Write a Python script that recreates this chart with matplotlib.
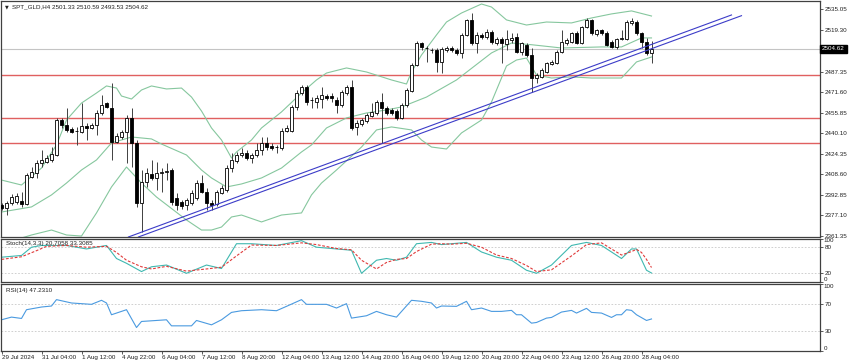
import matplotlib
matplotlib.use('Agg')
import matplotlib.pyplot as plt
from matplotlib import font_manager
import numpy as np

# ---- SPT_GLD H4 candles (bar 0 = 29 Jul 2024) ----
opens = [2385.1, 2382.8, 2386.6, 2387.4, 2388.2, 2385.9, 2406.5, 2409.6, 2417.3, 2418.0,
         2419.6, 2423.4, 2450.2, 2446.4, 2443.3, 2441.8, 2441.0, 2445.6, 2444.1, 2446.4,
         2455.6, 2463.2, 2459.4, 2433.4, 2437.2, 2441.0, 2451.8, 2432.6, 2386.6, 2402.7,
         2408.8, 2405.8, 2409.6, 2410.4, 2411.9, 2390.5, 2387.4, 2385.1, 2386.6, 2390.5,
         2401.9, 2395.1, 2386.6, 2385.9, 2394.3, 2396.6, 2413.4, 2418.8, 2423.4, 2424.9,
         2421.1, 2423.4, 2427.2, 2432.6, 2430.3, 2429.5, 2428.8, 2441.8, 2441.8, 2460.2,
         2470.9, 2475.5, 2465.5, 2464.0, 2466.3, 2468.6, 2468.6, 2465.5, 2461.7, 2470.9,
         2475.5, 2444.9, 2447.2, 2449.5, 2453.3, 2455.6, 2464.0, 2459.4, 2457.9, 2457.1,
         2451.8, 2461.7, 2472.4, 2492.4, 2509.2, 2505.4, 2503.9, 2503.9, 2494.7, 2503.9,
         2505.4, 2503.9, 2501.6, 2515.4, 2526.9, 2509.2, 2515.4, 2513.8, 2517.7, 2509.2,
         2512.3, 2508.5, 2511.5, 2513.8, 2502.3, 2507.7, 2500.0, 2482.4, 2483.2, 2487.0,
         2493.1, 2493.9, 2502.3, 2509.2, 2510.0, 2516.9, 2509.2, 2521.5, 2526.9, 2516.1,
         2519.2, 2516.9, 2510.0, 2506.2, 2512.3, 2512.3, 2524.6, 2525.3, 2516.9, 2510.0,
         2501.33]
highs = [2386.6, 2388.2, 2393.5, 2394.3, 2395.1, 2409.6, 2414.2, 2419.6, 2427.2, 2423.4,
         2429.5, 2451.8, 2451.8, 2459.4, 2444.9, 2444.9, 2463.2, 2447.9, 2447.9, 2457.9,
         2469.4, 2464.0, 2478.6, 2440.3, 2442.6, 2454.1, 2459.4, 2434.9, 2411.9, 2413.4,
         2419.6, 2418.0, 2413.4, 2417.3, 2413.4, 2394.3, 2388.9, 2390.5, 2396.6, 2404.2,
         2408.1, 2398.1, 2388.9, 2396.6, 2400.4, 2415.7, 2424.9, 2425.7, 2428.8, 2427.2,
         2424.9, 2432.6, 2437.2, 2437.2, 2432.6, 2431.1, 2444.1, 2446.4, 2461.7, 2473.2,
         2477.0, 2477.0, 2467.8, 2469.4, 2475.5, 2470.1, 2470.9, 2467.8, 2473.2, 2477.0,
         2480.9, 2450.2, 2451.8, 2455.6, 2463.2, 2465.5, 2470.9, 2461.0, 2459.4, 2458.7,
         2463.2, 2474.7, 2493.9, 2510.8, 2510.0, 2506.9, 2505.4, 2505.4, 2506.2, 2506.9,
         2506.9, 2505.4, 2516.9, 2527.6, 2532.2, 2517.7, 2516.9, 2520.0, 2519.2, 2513.8,
         2513.8, 2519.2, 2516.9, 2516.9, 2510.0, 2509.2, 2505.4, 2486.2, 2490.1, 2494.7,
         2496.2, 2503.9, 2519.2, 2513.1, 2517.7, 2518.4, 2522.3, 2528.4, 2527.6, 2520.0,
         2520.0, 2518.4, 2511.5, 2513.1, 2519.2, 2526.9, 2528.4, 2526.9, 2517.7, 2513.1,
         2510.59]
lows = [2381.3, 2377.4, 2385.1, 2385.9, 2383.6, 2385.1, 2405.8, 2405.8, 2414.2, 2417.3,
        2418.0, 2422.6, 2444.1, 2441.0, 2440.3, 2431.1, 2440.3, 2434.9, 2443.3, 2438.7,
        2454.1, 2459.4, 2419.6, 2432.6, 2435.7, 2417.3, 2414.2, 2383.6, 2364.4, 2398.9,
        2404.2, 2396.6, 2395.1, 2404.2, 2385.1, 2381.3, 2382.0, 2381.3, 2385.1, 2388.9,
        2394.3, 2381.3, 2381.3, 2384.3, 2393.5, 2395.1, 2410.4, 2417.3, 2421.9, 2419.6,
        2417.3, 2421.9, 2423.4, 2427.2, 2427.2, 2424.9, 2427.2, 2441.0, 2441.0, 2457.9,
        2469.4, 2461.7, 2459.4, 2459.4, 2459.4, 2465.5, 2464.0, 2455.6, 2460.2, 2469.4,
        2442.6, 2438.7, 2445.6, 2447.9, 2452.5, 2454.1, 2432.6, 2454.1, 2454.1, 2450.2,
        2451.0, 2460.2, 2471.7, 2491.6, 2503.9, 2494.7, 2501.6, 2487.0, 2486.2, 2502.3,
        2502.3, 2500.0, 2497.7, 2514.6, 2507.7, 2501.6, 2512.3, 2512.3, 2508.5, 2507.7,
        2493.9, 2503.9, 2509.2, 2501.6, 2500.0, 2498.5, 2471.7, 2478.6, 2482.4, 2486.2,
        2492.4, 2493.1, 2501.6, 2507.7, 2509.2, 2508.5, 2508.5, 2520.7, 2515.4, 2514.6,
        2515.4, 2506.9, 2505.4, 2504.6, 2511.5, 2511.5, 2523.0, 2515.4, 2505.4, 2500.0,
        2493.53]
closes = [2382.8, 2386.6, 2391.2, 2392.0, 2385.9, 2408.1, 2410.4, 2417.3, 2419.6, 2421.1,
          2424.2, 2450.2, 2446.4, 2442.6, 2441.0, 2441.6, 2445.6, 2444.1, 2446.4, 2455.6,
          2461.7, 2460.2, 2433.4, 2438.0, 2441.0, 2451.8, 2432.6, 2386.6, 2402.7, 2409.6,
          2405.8, 2409.6, 2410.4, 2411.1, 2387.4, 2385.1, 2384.3, 2388.9, 2394.3, 2401.9,
          2395.1, 2386.6, 2385.1, 2395.1, 2398.1, 2413.4, 2419.6, 2423.4, 2424.9, 2421.1,
          2423.4, 2427.2, 2432.6, 2429.5, 2428.8, 2429.3, 2441.8, 2444.1, 2460.2, 2470.9,
          2475.5, 2464.0, 2465.7, 2467.1, 2469.4, 2467.1, 2467.1, 2461.7, 2471.7, 2475.5,
          2444.1, 2447.9, 2450.2, 2454.1, 2456.4, 2464.0, 2459.4, 2455.6, 2455.6, 2451.8,
          2461.7, 2473.2, 2492.4, 2509.2, 2506.2, 2505.2, 2503.7, 2494.7, 2504.6, 2505.4,
          2503.9, 2501.6, 2515.4, 2526.9, 2509.2, 2515.4, 2513.8, 2517.7, 2510.0, 2512.3,
          2509.2, 2512.3, 2513.1, 2502.3, 2509.2, 2500.0, 2482.4, 2484.7, 2488.5, 2493.9,
          2494.7, 2502.3, 2510.0, 2511.5, 2516.9, 2509.2, 2521.5, 2526.9, 2516.9, 2519.2,
          2516.9, 2507.7, 2506.2, 2512.3, 2513.1, 2525.3, 2526.1, 2516.9, 2510.0, 2501.6,
          2504.62]

# Bollinger bands, read at selected bars
up_idx = [0, 4, 8, 11, 13, 16, 19, 21, 23, 24, 26, 28, 30, 33, 36, 38, 40, 42, 44, 46,
          47, 50, 52, 56, 60, 63, 65, 69, 73, 78, 81, 82, 84, 87, 89, 92, 96, 98, 101, 105,
          109, 114, 118, 122, 126, 130]
up_val = [2404.2, 2400.4, 2413.4, 2431.1, 2450.2, 2463.2, 2470.9, 2476.3, 2474.7, 2468.6,
          2466.3, 2473.2, 2476.3, 2474.0, 2474.7, 2467.8, 2457.1, 2444.1, 2434.9, 2421.1,
          2425.7, 2434.9, 2444.1, 2456.4, 2470.9, 2480.9, 2486.2, 2490.1, 2487.0, 2480.9,
          2477.8, 2487.0, 2500.0, 2515.4, 2525.3, 2532.2, 2539.1, 2536.8, 2526.9, 2523.0,
          2525.3, 2524.6, 2528.4, 2531.5, 2533.8, 2529.9]
mid_idx = [0, 6, 10, 13, 16, 19, 22, 26, 30, 32, 37, 40, 42, 45, 48, 52, 56, 60, 62, 65,
           69, 73, 77, 80, 85, 91, 98, 102, 106, 112, 120, 124, 128, 130]
mid_val = [2379.7, 2383.6, 2392.8, 2401.9, 2411.9, 2419.6, 2432.6, 2437.2, 2435.7, 2431.8,
           2423.4, 2411.9, 2405.8, 2398.9, 2401.2, 2405.8, 2413.4, 2425.7, 2431.1, 2444.1,
           2451.8, 2455.6, 2457.9, 2460.2, 2467.8, 2480.9, 2501.6, 2509.2, 2507.9, 2505.4,
           2506.2, 2506.2, 2513.1, 2513.1]
lo_idx = [0, 6, 10, 13, 16, 19, 22, 25, 28, 31, 37, 40, 42, 44, 46, 48, 52, 56, 60, 62,
          64, 67, 72, 75, 78, 82, 84, 86, 89, 92, 96, 98, 101, 103, 105, 107, 110, 114, 118, 124,
          127, 130]
lo_val = [2355.2, 2362.1, 2365.9, 2362.1, 2361.3, 2379.0, 2398.9, 2414.2, 2401.9, 2391.2,
          2373.6, 2365.9, 2365.9, 2368.2, 2375.9, 2377.4, 2372.1, 2377.4, 2379.0, 2392.8,
          2401.9, 2411.9, 2429.5, 2442.6, 2444.9, 2442.6, 2434.9, 2429.5, 2428.0, 2440.3,
          2450.2, 2464.0, 2491.6, 2496.2, 2497.7, 2484.7, 2482.4, 2483.2, 2482.4, 2482.4,
          2494.7, 2498.5]

# trend channel (two parallel lines) and horizontal levels
tl1_x, tl1_y = [25.4, 146.0], [2360.6, 2530.7]
tl2_x, tl2_y = [27.4, 148.0], [2360.6, 2530.15]
levels = [2484.7, 2451.5, 2432.8]
last_price = 2504.62

# Stochastic(14,3,3)
k_idx = [0, 4, 6, 8, 13, 17, 21, 23, 25, 28, 30, 33, 37, 41, 44, 47, 50, 55, 60, 63,
         67, 70, 72, 75, 77, 79, 81, 83, 86, 88, 90, 93, 96, 99, 102, 105, 107, 110, 114, 117,
         120, 124, 126, 127, 129, 130]
k_val = [57, 61, 80, 84, 84, 76, 84, 54, 43, 24, 35, 39, 20, 39, 31, 88, 88, 84, 95, 80,
         76, 73, 20, 50, 54, 50, 57, 88, 91, 86, 88, 91, 69, 57, 50, 27, 20, 39, 84, 91,
         84, 54, 76, 76, 27, 20.7]
d_idx = [0, 4, 7, 9, 13, 17, 21, 23, 25, 28, 30, 33, 37, 41, 44, 47, 50, 55, 60, 63,
         67, 70, 72, 75, 77, 79, 81, 83, 86, 88, 90, 93, 96, 99, 102, 105, 107, 110, 114, 117,
         120, 124, 126, 127, 128, 129, 130]
d_val = [52, 58, 72, 82, 84, 80, 82, 68, 50, 35, 30, 36, 25, 30, 34, 60, 85, 84, 90, 86,
         77, 74, 50, 30, 45, 52, 54, 70, 87, 88, 87, 89, 80, 62, 54, 38, 24, 28, 60, 86,
         90, 62, 70, 75, 68, 52, 33.3]

# RSI(14)
r_idx = [0, 2, 4, 5, 8, 10, 11, 14, 16, 18, 20, 21, 22, 23, 25, 27, 28, 31, 33, 34,
         38, 39, 42, 44, 46, 48, 52, 55, 57, 60, 61, 65, 67, 69, 70, 73, 75, 77, 79, 82,
         84, 86, 87, 88, 91, 93, 94, 96, 98, 100, 102, 103, 104, 106, 107, 109, 110, 112, 114, 115,
         117, 118, 120, 122, 123, 124, 125, 126, 127, 129, 130]
r_val = [46, 50, 48, 61, 65, 66.5, 76, 71, 70, 69, 75, 71, 53.5, 56, 61, 34.5, 43.5, 45, 46, 37,
         37, 45, 38.5, 46, 57, 59.5, 61, 59.5, 66, 76, 69, 69, 63.5, 70, 48.5, 52, 58.5, 53.5, 50, 75,
         73.5, 71, 63.5, 66.5, 66, 73.5, 61, 63.5, 58.5, 58.5, 60, 53.5, 53.5, 41, 42, 48.5, 49.5, 57.5, 60, 56,
         63, 57, 56, 49.5, 53.5, 53.5, 61, 60, 53.5, 45, 47.23]

price_ticks = [2535.05, 2519.30, 2487.35, 2471.60, 2455.85, 2440.10, 2424.35,
               2408.60, 2392.85, 2377.10, 2361.35]
date_pos = [0, 8, 16, 24, 32, 40, 48, 56, 64, 72, 80, 88, 96, 104, 112, 120, 128]
date_lbl = ['29 Jul 2024', '31 Jul 04:00', '1 Aug 12:00', '4 Aug 22:00', '6 Aug 04:00',
            '7 Aug 12:00', '8 Aug 20:00', '12 Aug 04:00', '13 Aug 12:00', '14 Aug 20:00',
            '16 Aug 04:00', '19 Aug 12:00', '20 Aug 20:00', '22 Aug 04:00', '23 Aug 12:00',
            '26 Aug 20:00', '28 Aug 04:00']


def pick_font():
    for name, size in (('Liberation Sans Narrow', 5.3), ('DejaVu Sans Condensed', 4.6),
                       ('Liberation Sans', 4.5)):
        try:
            font_manager.findfont(font_manager.FontProperties(family=name),
                                  fallback_to_default=False)
            return name, size
        except Exception:
            pass
    return 'DejaVu Sans', 4.2


FONT, FS = pick_font()
plt.rcParams['font.family'] = [FONT, 'DejaVu Sans']
TXT = '#202020'
W, H = 850, 364


def box(x0, y0, x1, y1):
    return [x0 / W, 1 - y1 / H, (x1 - x0) / W, (y1 - y0) / H]


fig = plt.figure(figsize=(W / 100, H / 100), dpi=100)
fig.patch.set_facecolor('white')
ax = fig.add_axes(box(1, 1, 820, 237))
ax_st = fig.add_axes(box(1, 238.5, 820, 282))
ax_rsi = fig.add_axes(box(1, 283.5, 820, 350.7))

for a in (ax, ax_st, ax_rsi):
    a.set_xlim(-0.1, 163.7)
    for s in a.spines.values():
        s.set_color('#404040')
        s.set_linewidth(0.9)
    a.yaxis.tick_right()
    a.tick_params(axis='y', direction='out', length=2.2, width=0.6, color='#404040',
                  labelsize=FS, labelcolor=TXT, pad=1.2)
    a.tick_params(axis='x', length=0)
    a.set_xticks([])

# ---- main price panel ----
ax.set_ylim(2360.56, 2541.4)
x = np.arange(len(opens))
o = np.array(opens)
c = np.array(closes)
ax.axhline(last_price, color='#c4c4c4', lw=0.8, zorder=1)
for lv in levels:
    ax.axhline(lv, color='#e06060', lw=1.0, zorder=1)
for bi, bv in ((up_idx, up_val), (mid_idx, mid_val), (lo_idx, lo_val)):
    ax.plot(bi, bv, color='#86c79e', lw=0.8, zorder=1.5)
ax.plot(tl1_x, tl1_y, color='#3c3cc8', lw=0.8, zorder=4)
ax.plot(tl2_x, tl2_y, color='#3c3cc8', lw=0.8, zorder=4)
ax.vlines(x, lows, highs, color='#404040', lw=0.7, zorder=2)
bull = c >= o
body_h = np.maximum(np.abs(c - o), 0.35)
ax.bar(x, body_h, bottom=np.minimum(o, c), width=0.62,
       color=np.where(bull, 'white', 'black'), edgecolor='black', linewidth=0.6, zorder=3)
ax.set_yticks(price_ticks)
ax.set_yticklabels(['%.2f' % v for v in price_ticks])
ax.text(1.0025, last_price, '%.2f' % last_price, transform=ax.get_yaxis_transform(),
        ha='left', va='center', fontsize=FS, color='white',
        bbox=dict(boxstyle='square,pad=0.3', fc='black', ec='black'))
ax.text(4 / 819, 1 - 6 / 236, '\u25bc', transform=ax.transAxes, fontsize=3.5,
        ha='left', va='center', color=TXT, family='DejaVu Sans')
ax.text(11 / 819, 1 - 6 / 236, 'SPT_GLD,H4 2501.33 2510.59 2493.53 2504.62',
        transform=ax.transAxes, fontsize=FS, ha='left', va='center', color=TXT)

# ---- stochastic panel ----
ax_st.set_ylim(0, 100)
for lv in (80, 20):
    ax_st.axhline(lv, color='#c8c8c8', lw=0.6, ls=(0, (2, 2)))
ax_st.plot(k_idx, k_val, color='#3fb8b0', lw=0.8)
ax_st.plot(d_idx, d_val, color='#e03a3a', lw=0.8, ls=(0, (2.5, 1.5)))
ax_st.set_yticks([0, 20, 80, 100])
ax_st.set_yticklabels(['', '20', '80', ''])
ax_st.text(1.0045, 100, '100', transform=ax_st.get_yaxis_transform(), fontsize=FS,
           ha='left', va='top', color=TXT)
ax_st.text(1.0045, 0, '0', transform=ax_st.get_yaxis_transform(), fontsize=FS,
           ha='left', va='bottom', color=TXT)
ax_st.text(5 / 819, 0.88, 'Stoch(14,3,3) 20.7058 33.3085', transform=ax_st.transAxes,
           fontsize=FS, ha='left', va='center', color=TXT)

# ---- RSI panel ----
ax_rsi.set_ylim(0, 100)
for lv in (70, 30):
    ax_rsi.axhline(lv, color='#c8c8c8', lw=0.6, ls=(0, (2, 2)))
ax_rsi.plot(r_idx, r_val, color='#4a9ae0', lw=0.8)
ax_rsi.set_yticks([0, 30, 70, 100])
ax_rsi.set_yticklabels(['', '30', '70', ''])
ax_rsi.text(1.0045, 100, '100', transform=ax_rsi.get_yaxis_transform(), fontsize=FS,
            ha='left', va='top', color=TXT)
ax_rsi.text(1.0045, 0, '0', transform=ax_rsi.get_yaxis_transform(), fontsize=FS,
            ha='left', va='bottom', color=TXT)
ax_rsi.text(5 / 819, 0.9, 'RSI(14) 47.2310', transform=ax_rsi.transAxes,
            fontsize=FS, ha='left', va='center', color=TXT)

ax_rsi.set_xticks(date_pos)
ax_rsi.set_xticklabels(date_lbl, ha='left')
ax_rsi.tick_params(axis='x', direction='out', length=2.2, width=0.6, color='#404040',
                   labelsize=FS, labelcolor=TXT, pad=1.0)

fig.savefig('out.png', dpi=100)
